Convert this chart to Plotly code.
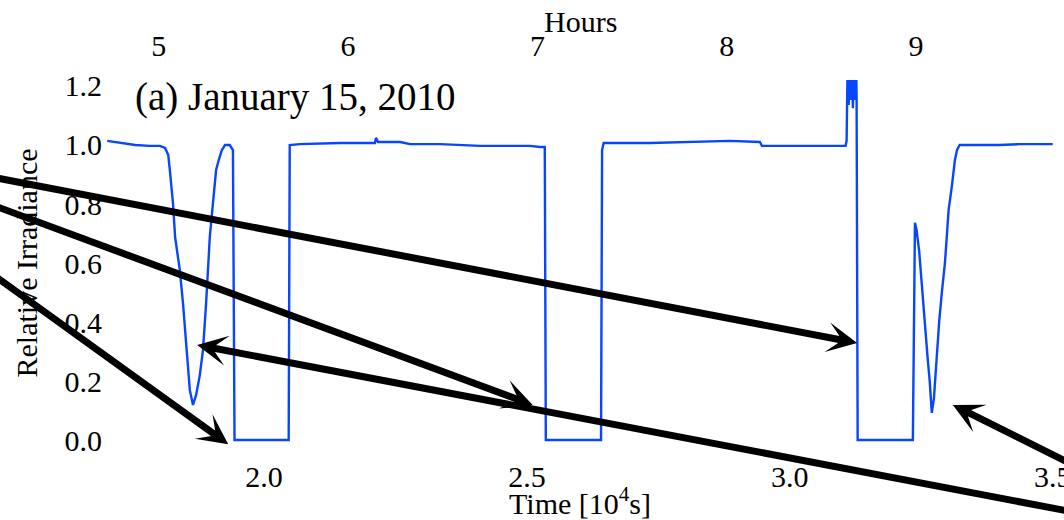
import plotly.graph_objects as go

# Relative irradiance record, time in units of 10^4 s
time_1e4s = [
    1.702, 1.755, 1.783, 1.802, 1.812, 1.818, 1.821, 1.827, 1.831, 1.840,
    1.846, 1.852, 1.856, 1.859, 1.865, 1.871, 1.878, 1.884, 1.890, 1.894,
    1.897, 1.903, 1.909, 1.914, 1.920, 1.926, 1.935, 1.941, 1.944, 2.047,
    2.049, 2.068, 2.145, 2.211, 2.213, 2.217, 2.259, 2.278, 2.335, 2.411,
    2.506, 2.525, 2.534, 2.536, 2.641, 2.643, 2.646, 2.734, 2.829, 2.886,
    2.943, 2.947, 3.019, 3.106, 3.108, 3.110, 3.112, 3.114, 3.116, 3.118,
    3.120, 3.122, 3.124, 3.126, 3.127, 3.129, 3.234, 3.236, 3.238, 3.241,
    3.246, 3.250, 3.254, 3.258, 3.262, 3.266, 3.270, 3.274, 3.279, 3.284,
    3.289, 3.295, 3.299, 3.302, 3.308, 3.312, 3.314, 3.318, 3.323, 3.399,
    3.437, 3.500,
]
rel_irradiance = [
    1.014, 1.000, 0.997, 0.997, 0.990, 0.966, 0.915, 0.803, 0.688, 0.576,
    0.464, 0.315, 0.227, 0.169, 0.119, 0.153, 0.220, 0.305, 0.464, 0.576,
    0.688, 0.803, 0.915, 0.949, 0.983, 1.000, 1.000, 0.983, 0.000, 0.000,
    1.000, 1.003, 1.007, 1.007, 1.024, 1.010, 1.010, 1.003, 1.003, 0.997,
    0.997, 0.993, 0.993, 0.000, 0.000, 0.983, 1.007, 1.007, 1.010, 1.014,
    1.010, 0.997, 0.997, 0.997, 1.014, 1.288, 1.136, 1.288, 1.153, 1.288,
    1.125, 1.288, 1.153, 1.288, 1.159, 0.000, 0.000, 0.475, 0.736, 0.712,
    0.640, 0.550, 0.450, 0.360, 0.280, 0.200, 0.092, 0.140, 0.290, 0.400,
    0.498, 0.600, 0.702, 0.780, 0.858, 0.915, 0.949, 0.983, 1.000, 1.000,
    1.003, 1.003,
]

# Axis ticks
time_ticks = [2.0, 2.5, 3.0, 3.5]
hour_ticks = [5, 6, 7, 8, 9]
irr_ticks = [0.0, 0.2, 0.4, 0.6, 0.8, 1.0, 1.2]

# Pointer arrows: tail -> head, in (10^4 s, relative irradiance)
arrow_tail_t = [1.422, 1.422, 1.422, 3.589, 3.589]
arrow_tail_v = [0.912, 0.837, 0.641, -0.261, -0.129]
arrow_head_t = [3.128, 2.511, 1.932, 1.873, 3.310]
arrow_head_v = [0.329, 0.119, -0.014, 0.322, 0.119]

title_text = "(a) January 15, 2010"

x_range = [1.7015, 3.5005]
y_range = [-0.0203, 1.2203]
sec_per_hour = 3600.0 / 1e4  # one hour in units of 10^4 s

SERIF = "Liberation Serif, Times New Roman, serif"
LINE_BLUE = "#0646ff"

fig = go.Figure()
fig.add_trace(go.Scatter(
    x=time_1e4s, y=rel_irradiance, mode="lines",
    line=dict(color=LINE_BLUE, width=2.4),
    showlegend=False, hoverinfo="skip",
))
# carrier trace for the hours axis on top
fig.add_trace(go.Scatter(
    x=hour_ticks, y=[None] * len(hour_ticks), xaxis="x2", yaxis="y",
    mode="markers", showlegend=False, hoverinfo="skip",
))

for tt, tv, ht, hv in zip(arrow_tail_t, arrow_tail_v, arrow_head_t, arrow_head_v):
    fig.add_annotation(
        x=ht, y=hv, ax=tt, ay=tv, xref="x", yref="y", axref="x", ayref="y",
        text="", showarrow=True, arrowhead=3, arrowsize=0.72, arrowwidth=7,
        arrowcolor="black", standoff=0, startstandoff=0,
    )

fig.add_annotation(
    x=0.0275, y=0.9536, xref="paper", yref="paper", xanchor="left", yanchor="middle",
    text=title_text, showarrow=False, font=dict(family=SERIF, size=39, color="black"),
)
fig.add_annotation(
    x=0.5, y=1.1585, xref="paper", yref="paper", xanchor="center", yanchor="middle",
    text="Hours", showarrow=False, font=dict(family=SERIF, size=30, color="black"),
)

fig.update_layout(
    width=1064, height=520,
    margin=dict(l=107, r=11, t=80, b=74, autoexpand=False),
    paper_bgcolor="white", plot_bgcolor="white",
    font=dict(family=SERIF, size=30, color="black"),
    xaxis=dict(
        range=x_range, tickvals=time_ticks, tickformat=".1f",
        showgrid=False, zeroline=False, showline=False, ticks="",
        ticklabelstandoff=10, ticklabeloverflow="allow", automargin=False,
        title=dict(text="Time [10<sup>4</sup>s]", standoff=0, font=dict(size=30)),
    ),
    xaxis2=dict(
        overlaying="x", side="top", anchor="y",
        range=[x_range[0] / sec_per_hour, x_range[1] / sec_per_hour],
        tickvals=hour_ticks, showgrid=False, zeroline=False, showline=False, ticks="",
        ticklabelstandoff=17, automargin=False,
    ),
    yaxis=dict(
        range=y_range, tickvals=irr_ticks, tickformat=".1f",
        showgrid=False, zeroline=False, showline=False, ticks="",
        ticklabelstandoff=4, automargin=False,
        title=dict(text="Relative Irradiance", standoff=18, font=dict(size=30)),
    ),
)

fig.write_html("out.html")
